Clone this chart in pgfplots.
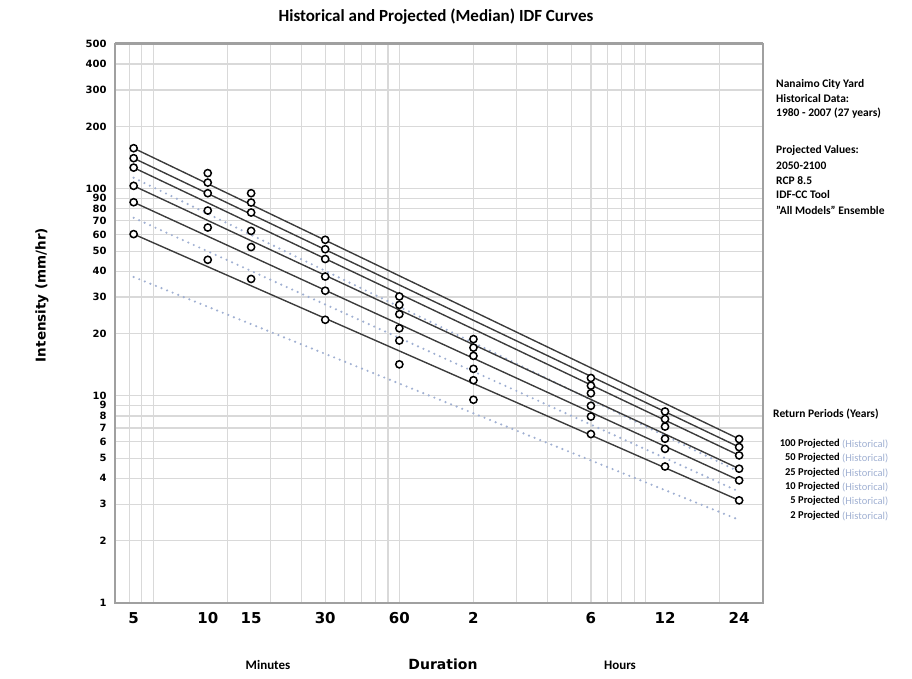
\documentclass[border=0pt]{standalone}
\usepackage{fontspec}
\setmainfont{Carlito}
\newfontfamily\dejavu{DejaVu Sans}
\usepackage{pgfplots}
\pgfplotsset{compat=1.18}

\definecolor{gridgray}{RGB}{217,217,217}
\definecolor{axgray}{RGB}{160,160,160}
\definecolor{histblue}{RGB}{160,176,210}
\definecolor{linegray}{RGB}{60,60,60}

% durations in hours: 5,10,15,30 min, 1,2,6,12,24 h
\pgfplotstableread{
x      p100  p50   p25   p10   p5    p2
0.08333 157  140.5 126.5 103.3 86.1  60.4
0.16667 119  107.1 95.2  78.5  65.0  45.4
0.25    95.2 85.8  76.8  62.6  52.3  36.7
0.5     56.7 51.1  45.8  37.7  32.2  23.3
1       30.2 27.5  24.8  21.2  18.5  14.2
2       18.8 17.1  15.6  13.5  11.9  9.58
6       12.2 11.2  10.3  8.96  7.95  6.54
12      8.41 7.73  7.11  6.21  5.55  4.56
24      6.19 5.66  5.16  4.45  3.91  3.13
}\circles

% fitted projected lines (ends at 5 min and 24 h)
\pgfplotstableread{
x      p100  p50   p25   p10   p5    p2
0.08333 157  140.5 126.5 103.3 86.1  60.4
24      6.19 5.66  5.16  4.45  3.91  3.13
}\projected

% historical lines
\pgfplotstableread{
x      ha   hb   hc
0.08333 113 72.4 37.5
24      4.3 3.45 2.52
}\historical

\begin{document}
\begin{tikzpicture}[x=1pt,y=1pt]
\useasboundingbox (0,0) rectangle (912,678);
\begin{axis}[
  at={(115pt,75pt)}, anchor=south west,
  scale only axis, width=648pt, height=559pt,
  xmode=log, ymode=log,
  xmin=0.07, xmax=30, ymin=1, ymax=500,
  axis line style={draw=axgray, line width=1.5pt},
  xtick={0.08333,0.16667,0.25,0.5,1,2,6,12,24},
  xticklabels={5,10,15,30,60,2,6,12,24},
  minor xtick={0.08,0.09,0.1,0.2,0.3,0.4,0.5,0.6,0.7,0.8,0.9,1,2,3,4,5,6,7,8,9,10,20},
  xminorgrids,
  ytick={1,2,3,4,5,6,7,8,9,10,20,30,40,50,60,70,80,90,100,200,300,400,500},
  yticklabels={1,2,3,4,5,6,7,8,9,10,20,30,40,50,60,70,80,90,100,200,300,400,500},
  ymajorgrids,
  major tick length=0pt, minor tick length=0pt,
  grid style={draw=gridgray, line width=1.2pt},
  minor grid style={draw=gridgray, line width=1.2pt},
  xticklabel style={font=\dejavu\bfseries\fontsize{15}{15}\selectfont, yshift=-6pt},
  yticklabel style={font=\dejavu\bfseries\fontsize{10}{10}\selectfont, xshift=-5pt},
  clip=false,
]
\foreach \c in {ha,hb,hc}{
  \addplot[histblue, line width=2.4pt, line cap=round, dash pattern=on 0pt off 6pt] table[x=x,y=\c]{\historical};
}
\foreach \c in {p100,p50,p25,p10,p5,p2}{
  \addplot[linegray, line width=1.4pt] table[x=x,y=\c]{\projected};
}
\foreach \c in {p100,p50,p25,p10,p5,p2}{
  \addplot[only marks, mark=*, mark size=3.6pt, mark options={draw=black, fill=white, line width=1.5pt}] table[x=x,y=\c]{\circles};
}
\draw[axgray, line width=3pt] (rel axis cs:0,1) -- (rel axis cs:1,1);
\end{axis}

\node[font=\bfseries\fontsize{17}{17}\selectfont] at (436,661) {Historical and Projected (Median) IDF Curves};
\node[font=\dejavu\bfseries\fontsize{13.5}{14}\selectfont, rotate=90] at (42,383) {Intensity (mm/hr)};
\node[font=\dejavu\bfseries\fontsize{14}{14}\selectfont] at (443,14) {Duration};
\node[font=\bfseries\fontsize{13}{13}\selectfont] at (268,13) {Minutes};
\node[font=\bfseries\fontsize{13}{13}\selectfont] at (620,13) {Hours};

\begin{scope}[every node/.style={anchor=west, inner sep=0pt, font=\bfseries\fontsize{11.5}{11.5}\selectfont}]
\node at (776,594) {Nanaimo City Yard};
\node at (776,579) {Historical Data:};
\node at (776,565) {1980 - 2007 (27 years)};
\node at (776,528) {Projected Values:};
\node at (776,512) {2050-2100};
\node at (776,497) {RCP 8.5};
\node at (776,483) {IDF-CC Tool};
\node at (776,468) {"All Models" Ensemble};
\node at (773,264) {Return Periods (Years)};
\end{scope}
\begin{scope}[every node/.style={inner sep=0pt, font=\bfseries\fontsize{10.5}{10.5}\selectfont}]
\foreach \t/\y in {100/234, 50/220, 25/205, 10/191, 5/177, 2/162}{
  \node[anchor=east] at (840,\y) {\t\ Projected};
  \node[anchor=west, text=histblue, font=\fontsize{10.5}{10.5}\selectfont] at (842,\y) {(Historical)};
}
\end{scope}
\end{tikzpicture}
\end{document}
